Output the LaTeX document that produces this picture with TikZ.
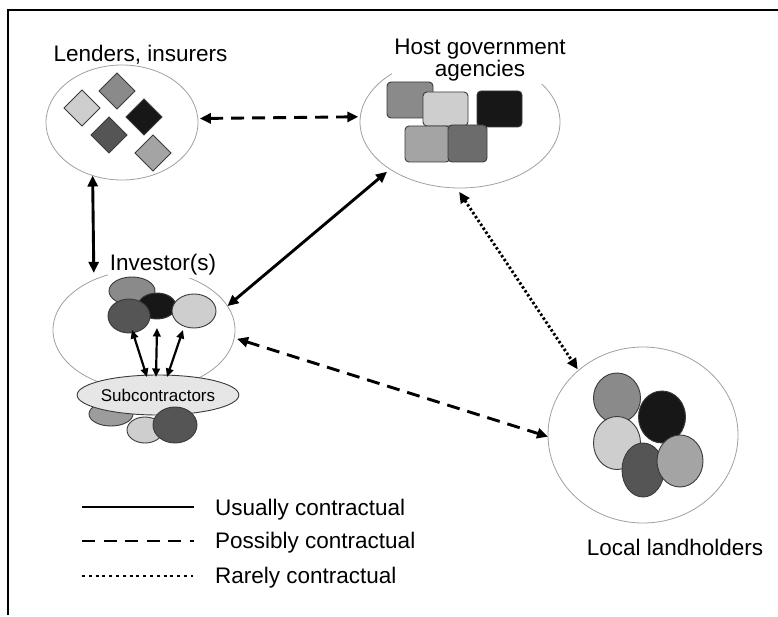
\documentclass[tikz,border=0pt]{standalone}
\usepackage{fontspec}
\setmainfont{Liberation Sans}
\usetikzlibrary{arrows.meta,shapes.geometric}
\definecolor{ringgray}{HTML}{A0A0A0}
\definecolor{edgegray}{HTML}{3A3A3A}
\definecolor{gLight}{HTML}{CECECE}
\definecolor{gMedLight}{HTML}{A4A4A4}
\definecolor{gMed}{HTML}{8A8A8A}
\definecolor{gDarkish}{HTML}{6C6C6C}
\definecolor{gDark}{HTML}{555555}
\definecolor{gBlack}{HTML}{171717}
\definecolor{gSub}{HTML}{E6E6E6}
\newcommand\diam[3]{\draw[blob,fill=#3] ({#1-18},{#2}) -- ({#1},{#2-18}) -- ({#1+18},{#2}) -- ({#1},{#2+18}) -- cycle;}
\begin{document}
\begin{tikzpicture}[x=1pt,y=-1pt,
  grp/.style={ellipse, draw=ringgray, line width=0.8pt, inner sep=0pt, outer sep=0pt},
  lbl/.style={font=\fontsize{22.5}{22}\selectfont, inner sep=2pt},
  blob/.style={draw=edgegray, line width=0.9pt},
  rel/.style={line width=2.9pt, {Triangle[length=11pt,width=10pt]}-{Triangle[length=11pt,width=10pt]}},
  usual/.style={rel},
  possible/.style={rel, dash pattern=on 13pt off 8pt},
  rare/.style={rel, dash pattern=on 2.4pt off 2.3pt},
  small/.style={line width=2.2pt, {Triangle[length=8.5pt,width=7.5pt]}-{Triangle[length=8.5pt,width=7.5pt]}},
]
\useasboundingbox (0,0) rectangle (778,617);
% frame
\draw[line width=1.6pt] (778,10) -- (8,10) -- (8,615);

% group rings
\node[grp, minimum width=152pt, minimum height=115pt] (lend) at (122,122.5) {};
\node[grp, minimum width=200pt, minimum height=132pt] (host) at (460,122) {};
\node[grp, minimum width=182pt, minimum height=120pt] (inv) at (144,330) {};
\node[grp, minimum width=190pt, minimum height=176pt] (land) at (643,435) {};

% labels
\node[lbl, anchor=base] (lendlbl) at (140.5,62) {Lenders, insurers};
\node[lbl, fill=white, align=center] (hostlbl) at (480,60.5) {Host government\\agencies};
\node[lbl, fill=white, anchor=base] (invlbl) at (163,271) {Investor(s)};
\node[lbl, anchor=base] (landlbl) at (675,555) {Local landholders};

% lenders, insurers
\diam{82}{108}{gLight}
\diam{117}{91}{gMed}
\diam{144}{117}{gBlack}
\diam{109}{135}{gDark}
\diam{153}{153}{gMedLight}

% host government agencies
\draw[blob, fill=gMed, rounded corners=4pt] (387,82) rectangle (433,118);
\draw[blob, fill=gLight, rounded corners=4pt] (423,92) rectangle (468,126);
\draw[blob, fill=gBlack, rounded corners=4pt] (477,91) rectangle (522,127);
\draw[blob, fill=gMedLight, rounded corners=4pt] (405,126) rectangle (450,162);
\draw[blob, fill=gDarkish, rounded corners=4pt] (448,125) rectangle (487,162);

% investors
\draw[blob, fill=gMed] (132,291) ellipse[x radius=23, y radius=14];
\draw[blob, fill=gBlack] (157,306) ellipse[x radius=19, y radius=13];
\draw[blob, fill=gDark] (129,316) ellipse[x radius=21, y radius=17];
\draw[blob, fill=gLight] (194,311) ellipse[x radius=22, y radius=17];

% subcontractors
\draw[blob, fill=gMed!85!white] (111,414) ellipse[x radius=22, y radius=12];
\draw[blob, fill=gLight] (145,430) ellipse[x radius=18, y radius=13];
\node[ellipse, blob, fill=gSub, inner sep=0pt, minimum width=116pt, minimum height=40pt,
      font=\fontsize{17}{18}\selectfont] (sub) at (158,395) {Subcontractors};
\draw[blob, fill=gDark] (175,425) ellipse[x radius=22, y radius=18];

% landholders
\draw[blob, fill=gMed] (617,398) ellipse[x radius=23.5, y radius=25];
\draw[blob, fill=gBlack] (662,417) ellipse[x radius=23.5, y radius=26];
\draw[blob, fill=gLight] (617,443) ellipse[x radius=23.5, y radius=26.5];
\draw[blob, fill=gDark] (643,470) ellipse[x radius=21, y radius=27];
\draw[blob, fill=gMedLight] (680,461) ellipse[x radius=23, y radius=26];

% internal investor-subcontractor links
\coordinate (i1) at (132,330);
\coordinate (i2) at (157,328);
\coordinate (i3) at (183,330);
\coordinate (s1) at (147,377);
\coordinate (s2) at (156,377);
\coordinate (s3) at (167,377);
\draw[small] (i1) -- (s1);
\draw[small] (i2) -- (s2);
\draw[small] (i3) -- (s3);

% relations
\draw[possible, shorten <=2pt, shorten >=2pt] (lend.3.4) -- (host.177.7);
\draw[usual, shorten >=7pt] (lend.241.4) -- (inv.135.7);
\draw[usual, shorten <=4pt] (host.214.5) -- (inv.16.1);
\draw[possible, shorten <=3pt] (inv.-5.7) -- (land.181.2);
\draw[rare, shorten <=4.7pt, shorten >=1.3pt] (host.267.7) -- (land.135.6);

% legend
\node[lbl, anchor=base west] (leg1) at (213,515) {Usually contractual};
\node[lbl, anchor=base west] (leg2) at (213,548) {Possibly contractual};
\node[lbl, anchor=base west] (leg3) at (213,583) {Rarely contractual};
\draw[line width=2.8pt] (82,507) -- (194,507);
\draw[line width=2.6pt, dash pattern=on 13pt off 8.5pt] (82,541) -- (194,541);
\draw[line width=2.2pt, dash pattern=on 3pt off 3.8pt] (82,576) -- (193,576);
\end{tikzpicture}
\end{document}
